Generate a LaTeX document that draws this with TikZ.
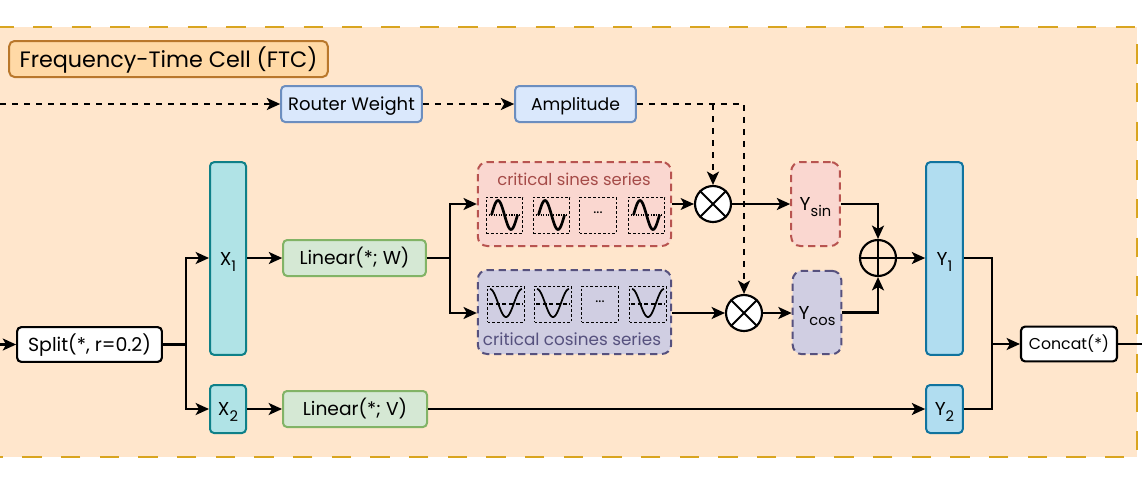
\documentclass[tikz,border=0pt]{standalone}
\usepackage{fontspec}
\setmainfont{Poppins}
\usetikzlibrary{arrows.meta,calc}
\definecolor{cellfill}{HTML}{FFE6CC}
\definecolor{celldraw}{HTML}{D9A520}
\definecolor{ftcfill}{HTML}{FFD9A6}
\definecolor{ftcdraw}{HTML}{B9772B}
\definecolor{bluef}{HTML}{DAE8FC}\definecolor{blued}{HTML}{6C8EBF}
\definecolor{tealf}{HTML}{B0E3E6}\definecolor{teald}{HTML}{0E8088}
\definecolor{greenf}{HTML}{D5E8D4}\definecolor{greend}{HTML}{82B366}
\definecolor{redf}{HTML}{FAD7D0}\definecolor{redd}{HTML}{B85450}
\definecolor{purf}{HTML}{D0CEE2}\definecolor{purd}{HTML}{56517E}
\definecolor{skyf}{HTML}{B1DDF0}\definecolor{skyd}{HTML}{10739E}
\newcommand{\subt}[1]{\raisebox{-0.6ex}{\fontsize{11}{12}\selectfont #1}}
\newcommand{\fs}[1]{\fontsize{#1}{15}\selectfont}
\tikzset{
 px/.style={x=0.75pt,y=-0.75pt},
 tsize/.style={font=\fs{#1},text height=0.72*#1 pt,text depth=0pt},
 blockbox/.style={draw,rounded corners=3pt,line width=1.5pt,inner sep=0pt,tsize=13.5,text=black},
 weightbox/.style={blockbox,fill=bluef,draw=blued},
 tealbox/.style={blockbox,fill=tealf,draw=teald,tsize=14},
 linbox/.style={blockbox,fill=greenf,draw=greend,tsize=14},
 skybox/.style={blockbox,fill=skyf,draw=skyd,tsize=14},
 plainbox/.style={blockbox,fill=white,draw=black,line width=1.6pt},
 sinbox/.style={blockbox,fill=redf,draw=redd,dash pattern=on 5.5pt off 3.5pt,rounded corners=7pt,tsize=14},
 cosbox/.style={blockbox,fill=purf,draw=purd,dash pattern=on 5.5pt off 3.5pt,rounded corners=7pt,tsize=14},
 wavecell/.style={draw=black,dash pattern=on 2pt off 1.5pt,line width=0.7pt,minimum width=27.5pt,minimum height=27pt,inner sep=0pt},
 opcircle/.style={circle,draw=black,fill=white,line width=1.6pt,minimum size=27pt,inner sep=0pt},
 flow/.style={draw=black,line width=1.6pt,-{Stealth[length=10pt,width=9pt,inset=2.5pt]}},
 flowplain/.style={draw=black,line width=1.6pt},
 dashflow/.style={flow,dash pattern=on 4.5pt off 4.5pt},
}
\begin{document}
\begin{tikzpicture}[px]
\useasboundingbox (0,0) rectangle (1142,486);
% cell background
\fill[cellfill] (0,27) rectangle (1137,457);
\draw[celldraw,line width=1.5pt,dash pattern=on 14.5pt off 14.5pt,dash phase=4.25pt] (0,27) -- (1137,27) -- (1137,457) -- (0,457);
\node[draw=ftcdraw,fill=ftcfill,rounded corners=4pt,line width=1.5pt,minimum width=239pt,minimum height=27pt,inner sep=0pt,tsize=16.7] (ftc) at (168.5,59) {Frequency-Time Cell (FTC)};
% blocks
\node[weightbox,minimum width=105.5pt,minimum height=27pt] (router) at (351.5,104) {Router Weight};
\node[weightbox,minimum width=90.5pt,minimum height=27pt,tsize=12.9] (amp) at (575.5,104) {Amplitude};
\node[plainbox,minimum width=108.5pt,minimum height=26pt,tsize=14.2] (split) at (89.5,344.5) {Split(*, r=0.2)};
\node[tealbox,minimum width=27pt,minimum height=144.5pt] (x1) at (228,258.5) {X\subt{1}};
\node[tealbox,minimum width=27pt,minimum height=36pt] (x2) at (228,409) {X\subt{2}};
\node[linbox,minimum width=107pt,minimum height=27pt] (linw) at (354.5,258) {Linear(*; W)};
\node[linbox,minimum width=108pt,minimum height=27pt] (linv) at (355,409) {Linear(*; V)};
% series groups
\node[sinbox,minimum width=145pt,minimum height=63pt] (sines) at (574.5,204) {};
\node[cosbox,minimum width=145pt,minimum height=63pt] (cosines) at (574.5,312) {};
\node[tsize=12.3,text=redd!90!black] (sinlab) at (574,179.5) {critical sines series};
\node[tsize=12.6,text=purd] (coslab) at (572,339) {critical cosines series};
\foreach \n/\xx in {a/504.5,b/551.5,d/646.5}{
  \node[wavecell] (s\n) at (\xx,215) {};
  \draw[densely dotted,line width=0.9pt] (\xx-16,215) -- (\xx+16,215);
  \draw[black,line width=2pt,smooth,domain=-13:13,samples=40] plot ({\xx+\x},{215-14.5*sin((\x+13)/26*360)});
}
\node[wavecell] (sc) at (598,215) {};
\node[font=\fs{11}] (sdots) at (598,213) {...};
\foreach \n/\xx in {a/506,b/553,d/648}{
  \node[wavecell] (c\n) at (\xx,304) {};
  \draw[densely dashed,line width=0.9pt] (\xx-17,304) -- (\xx+17,304);
  \draw[black,line width=1.3pt,smooth,domain=-16:16,samples=40] plot ({\xx+\x},{303+14*cos(\x/16*180)});
}
\node[wavecell] (cc) at (600,304) {};
\node[font=\fs{11}] (cdots) at (600,302) {...};
% operators
\node[opcircle] (m1) at (713,204) {};
\draw[line width=1.5pt] (m1.north west) -- (m1.south east) (m1.north east) -- (m1.south west);
\node[opcircle] (m2) at (744,313) {};
\draw[line width=1.5pt] (m2.north west) -- (m2.south east) (m2.north east) -- (m2.south west);
% results
\node[sinbox,minimum width=36.5pt,minimum height=63pt] (ysin) at (815.5,204) {Y\subt{sin}};
\node[cosbox,minimum width=36.5pt,minimum height=62.5pt] (ycos) at (817,312.5) {Y\subt{cos}};
\node[skybox,minimum width=27.5pt,minimum height=144.5pt] (y1) at (944.5,258.5) {Y\subt{1}};
\node[skybox,minimum width=27.5pt,minimum height=36pt] (y2) at (944.5,409) {Y\subt{2}};
\node[plainbox,minimum width=72pt,minimum height=26pt,tsize=11.8] (concat) at (1069,344) {Concat(*)};
% free ends and bends
\coordinate (inL) at (0,344.5);
\coordinate (outR) at (1142,344);
\coordinate (rtL) at (0,104);
\coordinate (sb) at (186,344.5);
\coordinate (lb) at (450,258);
\coordinate (cb) at (992,344);
% connectors
\draw[flow] (inL) -- (split);
\draw[flowplain] (split) -- (sb);
\draw[flow] (sb) |- (x1.west |- 0,258);
\draw[flow] (sb) |- (x2.west);
\draw[flow] (x1.east |- 0,258) -- (linw);
\draw[flow] (x2) -- (linv);
\draw[flowplain] (linw) -- (lb);
\draw[flow] (lb) |- (sines.west);
\draw[flow] (lb) |- (cosines.west |- 0,313);
\draw[flow,line width=0.8pt] (sines.east) -- (m1);
\draw[flow] (cosines.east |- 0,313) -- (m2);
\draw[flow] (m1) -- (ysin);
\draw[flow] (m2) -- (ycos.west |- 0,313);
\node[circle,draw=black,line width=1.6pt,minimum size=27pt,inner sep=0pt] (p) at (878,258) {};
\draw[line width=1.5pt] (p.north) -- (p.south) (p.west) -- (p.east);
\draw[flow] (ysin.east) -| (p.north);
\draw[flow] (ycos.east) -| (p.south);
\draw[flow] (p) -- (y1.west |- 0,258);
\draw[flow] (linv) -- (y2);
\draw[flowplain] (y1.east |- 0,258) -| (cb);
\draw[flowplain] (y2.east) -| (cb);
\draw[flow] (cb) -- (concat);
\draw[flowplain] (concat) -- (outR);
\draw[dashflow] (rtL) -- (router);
\draw[dashflow] (router) -- (amp);
\draw[dashflow] (amp.east) -| (m2.north);
\coordinate (tap) at (m1 |- amp);
\draw[dashflow] (tap) -- (m1.north);
\end{tikzpicture}
\end{document}
